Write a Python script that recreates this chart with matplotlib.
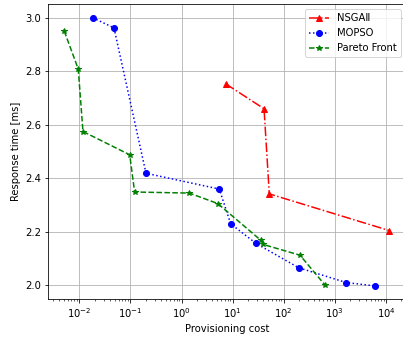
import matplotlib
matplotlib.use("Agg")
import matplotlib.pyplot as plt

# provisioning cost vs response time for each optimiser
nsga_cost = [7.33, 41.2, 52.2, 11660]
nsga_resp = [2.753, 2.660, 2.342, 2.205]

mopso_cost = [0.0183, 0.0477, 0.202, 5.49, 9.18, 28.7, 197, 1656, 6200]
mopso_resp = [3.000, 2.962, 2.419, 2.360, 2.230, 2.157, 2.066, 2.011, 1.998]

pareto_cost = [5.08e-3, 9.55e-3, 0.0118, 0.0969, 0.121, 1.42, 5.1, 35.5, 39.9, 208, 652]
pareto_resp = [2.950, 2.808, 2.575, 2.488, 2.349, 2.345, 2.306, 2.169, 2.153, 2.113, 2.000]

dpi = 72
fig = plt.figure(figsize=(403 / dpi, 337 / dpi), dpi=dpi)
# axes run a little past the right edge of the canvas
ax = fig.add_axes([48 / 403, 37.6 / 337, 357.6 / 403, 295.1 / 337])

ax.plot(nsga_cost, nsga_resp, color="r", linestyle="-.", marker="^", label="NSGA\u2161")
ax.plot(mopso_cost, mopso_resp, color="b", linestyle=":", marker="o", label="MOPSO")
ax.plot(pareto_cost, pareto_resp, color="g", linestyle="--", marker="*", label="Pareto Front")

ax.set_xscale("log")
ax.set_xlabel("Provisioning cost")
ax.set_ylabel("Response time [ms]")
ax.grid(True)
ax.legend(loc="upper right")

fig.savefig("out.png", dpi=dpi)
